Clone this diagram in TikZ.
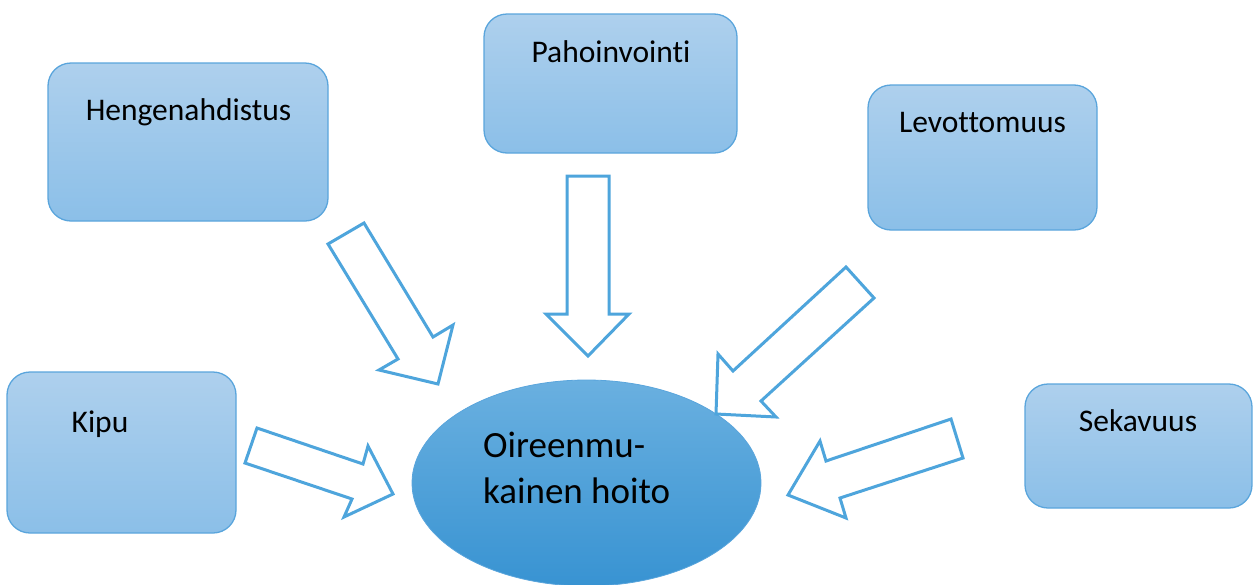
\documentclass[tikz,border=0pt]{standalone}
\usepackage{fontspec}
\setmainfont{Carlito}[Ligatures=NoCommon]
\definecolor{edgeblue}{HTML}{5AA5DC}
\definecolor{arrowblue}{HTML}{4EA5DC}
\definecolor{boxtop}{HTML}{AED0ED}
\definecolor{boxbot}{HTML}{8BBFE8}
\definecolor{elltop}{HTML}{6AB0E0}
\definecolor{ellmid}{HTML}{4AA7E2}
\definecolor{ellbot}{HTML}{3893D2}
\begin{document}
\begin{tikzpicture}[x=1pt,y=-1pt,
  symbox/.style={draw=edgeblue,line width=1.3pt,rounded corners=23pt,
    top color=boxtop,bottom color=boxbot},
  symtext/.style={anchor=base,font=\fontsize{31.5}{36}\selectfont,text=black,inner sep=0pt},
  blockarrow/.style={draw=arrowblue,line width=3pt,fill=white,line join=miter}]
\useasboundingbox (0,0) rectangle (1253,584);

% symptom boxes
\path[symbox] (48,63) rectangle (328,221);
\path[symbox] (484,14) rectangle (737,153);
\path[symbox] (868,85) rectangle (1097,230);
\path[symbox] (7,372) rectangle (236,533);
\path[symbox] (1025,384) rectangle (1252,508);

\node[symtext] (heng) at (188.5,120) {Hengenahdistus};
\node[symtext] (paho) at (611,62) {Pahoinvointi};
\node[symtext] (levo) at (982.5,132) {Levottomuus};
\node[symtext] (kipu) at (100,432) {Kipu};
\node[symtext] (seka) at (1138,431) {Sekavuus};

% central ellipse
\path[draw=edgeblue,line width=0.8pt,top color=elltop,middle color=ellmid,bottom color=ellbot]
  (586.5,483) ellipse [x radius=174.5,y radius=103];
\node[anchor=base west,font=\fontsize{37}{46}\selectfont,inner sep=0pt] (hoito) at (483,457)
  {Oireenmu-};
\node[anchor=base west,font=\fontsize{37}{46}\selectfont,inner sep=0pt] (hoito2) at (483,503)
  {kainen hoito};

% block arrows pointing at the centre
\draw[blockarrow] (328,244) -- (364,223) -- (433,337) -- (453,325) -- (438,384) -- (379,370) -- (398,359) -- cycle;
\draw[blockarrow] (567,176) -- (609,176) -- (609,314) -- (629,314) -- (588,356) -- (546,314) -- (567,314) -- cycle;
\draw[blockarrow] (846,267) -- (874,298) -- (761,401) -- (776,417) -- (716,414) -- (718,354) -- (733,371) -- cycle;
\draw[blockarrow] (257,428) -- (363,464) -- (368,446) -- (393,494) -- (344,517) -- (352,499) -- (245,463) -- cycle;
\draw[blockarrow] (951,419) -- (963,458) -- (840,498) -- (846,518) -- (788,495) -- (820,441) -- (826,461) -- cycle;
\end{tikzpicture}
\end{document}
